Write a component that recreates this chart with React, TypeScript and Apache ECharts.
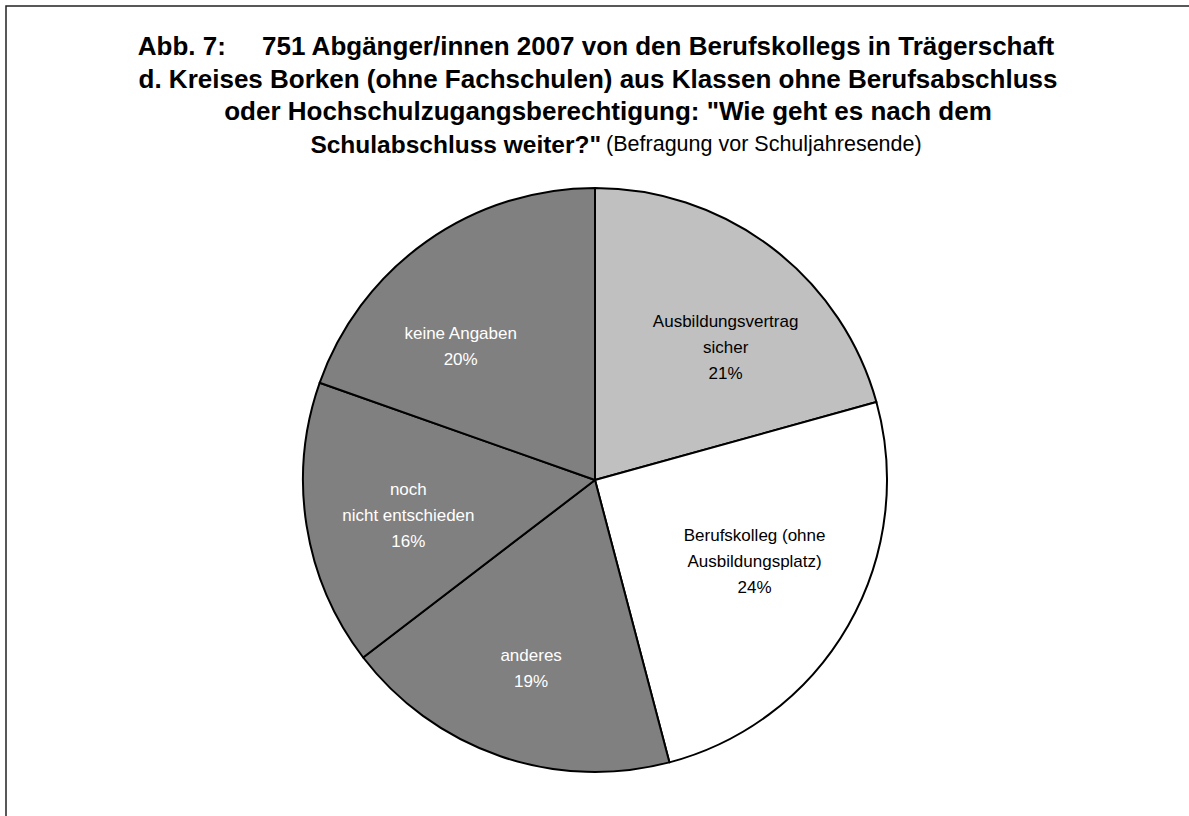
import React, { useEffect, useRef } from "react";
import * as echarts from "echarts";

const categories = [
  "Ausbildungsvertrag\nsicher",
  "Berufskolleg (ohne\nAusbildungsplatz)",
  "anderes",
  "noch\nnicht entschieden",
  "keine Angaben",
];
const values = [20.7, 25.2, 18.7, 15.8, 19.6];
const percentLabels = ["21%", "24%", "19%", "16%", "20%"];
const sliceColors = ["#C0C0C0", "#FFFFFF", "#808080", "#808080", "#808080"];
const labelColors = ["#000000", "#000000", "#FFFFFF", "#FFFFFF", "#FFFFFF"];
const labelOffsets = [
  [15, 20],
  [-6, -14],
  [-2, 8],
  [2, 6],
  [-24, 22],
];

const titleLines = [
  "Abb. 7:     751 Abgänger/innen 2007 von den Berufskollegs in Trägerschaft",
  "d. Kreises Borken (ohne Fachschulen) aus Klassen ohne Berufsabschluss",
  "oder Hochschulzugangsberechtigung: \"Wie geht es nach dem",
];
const titleLastBold = "Schulabschluss weiter?\"";
const titleLastNormal = "(Befragung vor Schuljahresende)";

export default function App() {
  const ref = useRef<HTMLDivElement>(null);
  useEffect(() => {
    document.body.style.margin = "0";
    if (!ref.current) return;
    const chart = echarts.init(ref.current, undefined, { renderer: "svg" });
    const font = "Liberation Sans, Arial, sans-serif";
    const cx = 595;
    const cy = 480;
    const R = 292;
    const lineCenters = [596, 598, 608];
    const lineTops = [30, 63, 95];
    chart.setOption({
      animation: false,
      backgroundColor: "#FFFFFF",
      title: [
        ...titleLines.map((t, i) => ({
          text: t,
          left: lineCenters[i],
          top: lineTops[i],
          textAlign: "center",
          padding: 0,
          textStyle: {
            fontFamily: font,
            fontSize: 26,
            fontWeight: "bold",
            color: "#000",
            lineHeight: 32,
          },
        })),
        {
          text: `{b|${titleLastBold}} {n|${titleLastNormal}}`,
          left: 616,
          top: 128,
          textAlign: "center",
          padding: 0,
          textStyle: {
            fontFamily: font,
            rich: {
              b: { fontFamily: font, fontSize: 24.5, fontWeight: "bold", color: "#000", lineHeight: 32 },
              n: { fontFamily: font, fontSize: 21.5, fontWeight: "normal", color: "#000", lineHeight: 32 },
            },
          },
        },
      ],
      graphic: [
        {
          type: "rect",
          shape: { x: 6, y: 6, width: 1300, height: 1000 },
          style: { fill: "none", stroke: "#222", lineWidth: 1.5 },
          silent: true,
          z: 100,
        },
      ],
      series: [
        {
          type: "pie",
          center: [cx, cy],
          radius: [0, R],
          startAngle: 90,
          clockwise: true,
          label: { show: false },
          labelLine: { show: false },
          emphasis: { disabled: true },
          itemStyle: { borderColor: "#000", borderWidth: 2 },
          data: categories.map((c, i) => ({
            name: c,
            value: values[i],
            itemStyle: { color: sliceColors[i] },
          })),
        },
        {
          type: "pie",
          center: [cx, cy],
          radius: [84, R],
          startAngle: 90,
          clockwise: true,
          silent: true,
          z: 5,
          emphasis: { disabled: true },
          itemStyle: { color: "rgba(0,0,0,0)", borderWidth: 0 },
          labelLine: { show: false },
          data: categories.map((c, i) => ({
            name: c,
            value: values[i],
            label: {
              show: true,
              position: "inside",
              formatter: `${c}\n${percentLabels[i]}`,
              color: labelColors[i],
              fontFamily: font,
              fontSize: 17,
              lineHeight: 26,
              align: "center",
              offset: labelOffsets[i],
            },
          })),
        },
      ],
    });
    return () => chart.dispose();
  }, []);
  return <div ref={ref} style={{ width: 1189, height: 816 }} />;
}
